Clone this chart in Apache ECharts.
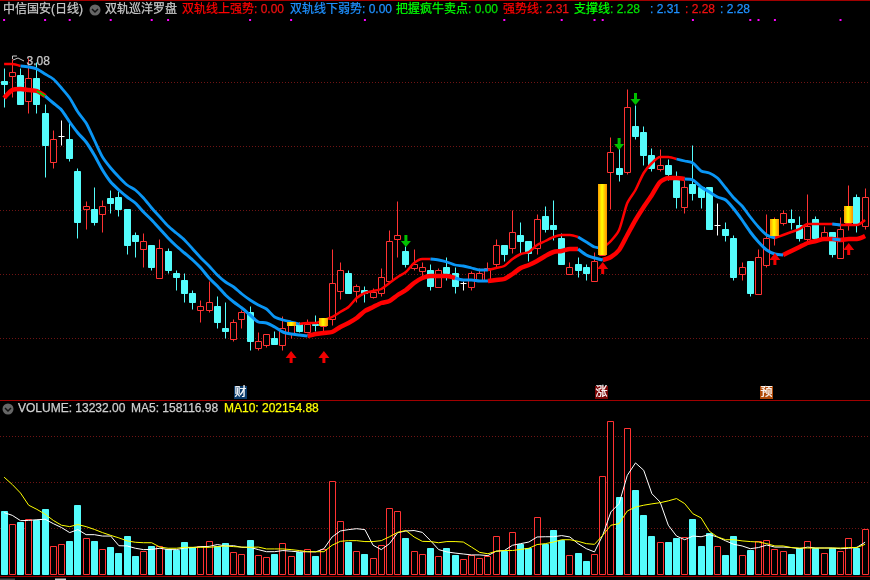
<!DOCTYPE html>
<html><head><meta charset="utf-8">
<style>html,body{margin:0;padding:0;background:#000}#c{width:870px;height:580px}</style>
<script src="https://cdn.jsdelivr.net/npm/echarts@6/dist/echarts.min.js"></script>
</head><body><div id="c"></div>
<script>
// [open, close, low, high]
const candles = [
[2.985,2.97,2.855,3.05],[3.01,3.03,2.905,3.095],[3.015,2.87,2.87,3.05],[2.885,3.00,2.825,3.10],[3.00,2.87,2.825,3.08],
[2.825,2.665,2.505,2.87],[2.58,2.695,2.55,2.74],[2.71,2.71,2.665,2.79],[2.695,2.60,2.585,2.78],[2.535,2.28,2.20,2.55],
[2.345,2.36,2.245,2.385],[2.345,2.28,2.265,2.455],[2.32,2.36,2.23,2.39],[2.40,2.375,2.325,2.44],[2.405,2.345,2.31,2.435],
[2.345,2.165,2.12,2.345],[2.215,2.185,2.105,2.23],[2.145,2.185,2.055,2.225],[2.165,2.055,2.04,2.165],[2.00,2.15,2.00,2.195],
[2.135,2.04,2.025,2.15],[2.025,2.005,1.94,2.04],[1.99,1.925,1.88,2.025],[1.925,1.88,1.845,1.94],[1.84,1.86,1.78,1.89],
[1.84,1.88,1.83,1.985],[1.86,1.78,1.75,1.91],[1.75,1.735,1.70,1.88],[1.695,1.78,1.685,1.795],[1.795,1.83,1.75,1.84],
[1.83,1.685,1.64,1.86],[1.65,1.685,1.64,1.73],[1.665,1.72,1.655,1.72],[1.70,1.67,1.67,1.735],[1.665,1.75,1.64,1.81],
[1.72,1.77,1.70,1.78],[1.77,1.735,1.73,1.78],[1.73,1.77,1.73,1.795],[1.77,1.765,1.735,1.815],[1.76,1.80,1.73,1.80],
[1.795,1.975,1.765,2.145],[1.935,2.04,1.895,2.08],[2.025,1.925,1.925,2.04],[1.935,1.96,1.88,1.97],[1.94,1.925,1.88,1.96],
[1.905,1.93,1.90,1.95],[1.925,2.005,1.91,2.05],[1.985,2.185,1.985,2.24],[2.195,2.215,2.105,2.385],[2.135,2.07,2.055,2.16],
[2.05,2.07,2.04,2.145],[2.035,2.055,2.00,2.08],[2.04,1.96,1.94,2.07],[1.955,2.04,1.955,2.05],[2.055,2.025,1.99,2.105],
[2.025,1.96,1.925,2.055],[1.975,1.975,1.94,1.985],[1.955,2.025,1.94,2.035],[1.99,2.025,1.99,2.05],[1.985,2.05,1.985,2.08],
[2.07,2.165,2.05,2.195],[2.165,2.12,2.085,2.165],[2.15,2.23,2.125,2.34],[2.215,2.185,2.125,2.28],[2.185,2.125,2.085,2.185],
[2.15,2.295,2.12,2.32],[2.31,2.245,2.23,2.36],[2.265,2.245,2.19,2.39],[2.20,2.07,2.07,2.225],[2.02,2.055,2.02,2.08],
[2.07,2.04,2.005,2.105],[2.055,2.025,1.99,2.07],[1.985,2.085,1.985,2.13],[2.115,2.47,2.115,2.47],[2.53,2.63,2.345,2.705],
[2.55,2.52,2.485,2.655],[2.53,2.855,2.52,2.945],[2.76,2.71,2.695,2.865],[2.73,2.615,2.565,2.76],[2.615,2.55,2.535,2.65],
[2.545,2.565,2.535,2.645],[2.565,2.52,2.49,2.595],[2.49,2.405,2.35,2.535],[2.355,2.455,2.325,2.49],[2.47,2.425,2.39,2.665],
[2.455,2.405,2.35,2.455],[2.455,2.245,2.245,2.455],[2.265,2.265,2.215,2.375],[2.245,2.215,2.185,2.28],[2.20,2.005,1.99,2.215],
[2.02,2.055,1.99,2.08],[2.085,1.925,1.91,2.085],[1.92,2.105,1.92,2.145],[2.065,2.20,2.055,2.32],[2.21,2.295,2.165,2.305],
[2.275,2.325,2.265,2.34],[2.295,2.28,2.245,2.345],[2.265,2.20,2.185,2.31],[2.195,2.26,2.185,2.42],[2.295,2.20,2.20,2.31],
[2.20,2.23,2.19,2.26],[2.23,2.12,2.105,2.23],[2.10,2.245,2.10,2.305],[2.275,2.36,2.24,2.465],[2.405,2.27,2.23,2.42],
[2.26,2.405,2.245,2.45]];
const upperRail = [3.07,3.07,3.06,3.055,3.045,3.02,2.995,2.95,2.90,2.83,2.775,2.69,2.605,2.55,2.505,2.465,2.44,2.40,2.35,2.305,
2.26,2.225,2.19,2.145,2.10,2.06,2.015,1.98,1.955,1.92,1.89,1.865,1.845,1.805,1.79,1.78,1.77,1.775,1.775,1.79,
1.805,1.83,1.855,1.90,1.925,1.935,1.945,1.975,2.005,2.03,2.075,2.095,2.095,2.09,2.08,2.065,2.06,2.05,2.04,2.04,
2.05,2.06,2.095,2.12,2.13,2.165,2.185,2.205,2.215,2.215,2.205,2.18,2.155,2.15,2.185,2.24,2.375,2.44,2.525,2.575,
2.605,2.605,2.595,2.585,2.575,2.535,2.525,2.50,2.45,2.40,2.36,2.305,2.255,2.215,2.20,2.215,2.23,2.245,2.27,2.27,
2.27,2.27,2.265,2.265,2.265,2.29];
const lowerRail = [2.90,2.94,2.945,2.94,2.935,2.91,2.875,2.84,2.78,2.725,2.68,2.615,2.54,2.48,2.44,2.405,2.375,2.33,2.29,2.245,
2.20,2.16,2.125,2.09,2.05,2.00,1.96,1.915,1.88,1.85,1.815,1.78,1.775,1.755,1.73,1.72,1.715,1.71,1.72,1.725,
1.73,1.755,1.775,1.80,1.835,1.855,1.875,1.885,1.915,1.94,1.975,2.00,2.01,2.01,2.01,2.00,1.99,1.99,1.985,1.985,
1.99,1.995,2.02,2.05,2.065,2.085,2.11,2.13,2.135,2.145,2.145,2.115,2.10,2.09,2.105,2.14,2.215,2.29,2.355,2.415,
2.48,2.50,2.50,2.495,2.49,2.455,2.43,2.405,2.39,2.345,2.29,2.23,2.18,2.14,2.12,2.115,2.135,2.155,2.175,2.185,
2.195,2.195,2.19,2.195,2.195,2.21];
const upperFallRuns = [[2,36],[52,59],[70,73],[82,94],[101,102]];
const lowerFallRuns = [[5,37],[55,59],[70,73],[83,95],[101,102]];
const lowerGreenRun = [4,5];
// volume, thousands
const volume = [273,219,225,241,234,281,123,132,142,299,158,142,110,116,90,164,77,101,120,123,107,103,138,116,123,145,120,134,97,88,147,84,75,86,136,80,
94,110,77,110,406,232,138,101,86,71,127,288,275,155,101,88,112,80,112,81,67,84,71,77,167,99,184,132,114,249,129,190,149,84,90,
55,88,428,667,334,636,364,255,164,141,138,155,162,238,120,177,123,81,164,84,103,145,149,110,101,86,112,145,112,93,112,101,158,114,197];
const ma5 = [267,255,232,233,236,238,219,202,180,193,171,171,165,165,123,122,112,106,107,112,106,106,113,115,119,120,128,122,123,116,116,106,97,97,102,99,
96,97,96,110,161,187,193,197,193,125,106,132,180,187,189,181,145,106,96,91,87,83,83,80,99,102,125,132,139,161,162,162,167,161,132,
110,96,168,270,306,429,483,451,349,313,212,165,149,165,162,171,161,144,129,122,110,115,126,117,117,115,110,117,113,113,113,110,112,116,138];
const ma10 = [421,389,352,299,281,260,233,212,206,215,206,194,180,168,157,144,138,136,136,117,112,112,116,116,116,116,119,122,119,117,116,117,109,109,109,106,
102,97,97,97,125,142,145,145,141,141,145,162,181,189,161,142,141,136,141,141,139,117,94,88,99,102,102,107,112,128,132,139,149,149,142,
132,129,168,212,219,274,291,299,305,310,318,328,306,262,244,186,161,149,149,144,141,139,132,122,122,115,113,113,113,113,113,113,115,115,129];
const dateIndex = candles.map((_, i) => i);
const topDots = [0,5,8,13,18,20,30,35,44,61,68,72,73,84,91,92,94,102];
const upArrows = [[35,1.605],[39,1.605],[73,2.05],[94,2.095],[103,2.145]];
const downArrows = [[49,2.185],[75,2.67],[77,2.895]];
const goldBars = [[35,1.76,1.78],[39,1.76,1.80],[73,2.115,2.47],[94,2.21,2.295],[103,2.275,2.36]];

const priceMin = 1.38, priceMax = 3.30, priceStep = 0.32;
const volMax = 800, volStep = 200;

const RED='#ff3232', CYAN='#54fcfc', BLUE='#0a96f5', RAILRED='#ff0000';
const inRuns=(i,runs)=>runs.some(r=>i>=r[0]&&i<=r[1]);
const isEdge=(i,runs)=>runs.some(r=>i===r[0]||i===r[1]);
const fallPart=(arr,runs)=>arr.map((v,i)=>inRuns(i,runs)?v:null);
const risePart=(arr,runs)=>arr.map((v,i)=>(!inRuns(i,runs)||isEdge(i,runs))?v:null);
const rail=(name,data,color,width,z)=>({name,type:'line',xAxisIndex:0,yAxisIndex:0,data,showSymbol:false,symbol:'none',smooth:0.25,
  connectNulls:false,lineStyle:{color,width},z,silent:true});
const UP_PATH='path://M5.5 0L11 7L7 7L7 12L4 12L4 7L0 7Z';
const DOWN_PATH='path://M3.5 0L6.5 0L6.5 6L10 6L5 12L0 6L3.5 6Z';

const UI='"Liberation Sans","Noto Sans CJK SC",sans-serif';
const headerTexts=[
 ['中信国安(日线)',3,'#c8c8c8'],['双轨巡洋罗盘',105,'#c8c8c8'],
 ['双轨线上强势',182,'#ff0000'],[': 0.00',254,'#f01010'],
 ['双轨线下弱势',290,'#1e90ff'],[': 0.00',362,'#1e90ff'],
 ['把握疯牛卖点',396,'#00ff00'],[': 0.00',468,'#00e000'],
 ['强势线',503,'#ff0000'],[': 2.31',539,'#f01010'],
 ['支撑线',574,'#00ff00'],[': 2.28',610,'#00e000'],
 [': 2.31',650,'#1e90ff'],[': 2.28',685,'#f01010'],[': 2.28',720,'#1e90ff']];
const volTexts=[['VOLUME: 13232.00',18,'#d0d0d0'],['MA5: 158116.98',131,'#d0d0d0'],['MA10: 202154.88',224,'#ffff00']];
const badges=[['财',234,'#0a3a6a'],['涨',595,'#7a0505'],['预',760,'#b04a08']];
const gfx=[];
const txt=(t,x,y,c,extra)=>({type:'text',silent:true,z:50,x,y,style:Object.assign({text:t,fill:c,stroke:c,lineWidth:0.25,font:'12px '+UI,textVerticalAlign:'middle'},extra||{})});
headerTexts.forEach(h=>gfx.push(txt(h[0],h[1],10,h[2])));
volTexts.forEach(h=>gfx.push(txt(h[0],h[1],409,h[2])));
const gear=(cx,cy)=>{gfx.push({type:'circle',silent:true,z:50,shape:{cx,cy,r:5.5},style:{fill:'#666'}});
 gfx.push({type:'polyline',silent:true,z:51,shape:{points:[[cx-3,cy-1],[cx,cy+2],[cx+3,cy-1]]},style:{stroke:'#111',lineWidth:1.5,fill:null}});};
gear(95,10);gear(8,409);
badges.forEach(b=>{gfx.push({type:'rect',silent:true,z:50,shape:{x:b[1],y:386,width:13,height:13},style:{fill:b[2]}});
 gfx.push(txt(b[0],b[1]+0.5,392.5,'#ffffff'));});
[0.5,400.5,576.5].forEach(y=>gfx.push({type:'line',silent:true,z:40,shape:{x1:0,y1:y,x2:870,y2:y},style:{stroke:'#a00000',lineWidth:1}}));
gfx.push({type:'rect',silent:true,z:40,shape:{x:55,y:578.5,width:11,height:2},style:{fill:'#cccccc'}});
gfx.push({type:'rect',silent:true,z:40,shape:{x:0,y:578.5,width:15,height:2},style:{fill:'#444'}});
gfx.push({type:'polyline',silent:true,z:42,shape:{points:[[12.5,59],[12.5,56],[17,56]]},style:{stroke:'#c8c8c8',lineWidth:1,fill:null}});
gfx.push({type:'polyline',silent:true,z:42,shape:{points:[[13,60],[18,58],[24,61]]},style:{stroke:'#c8c8c8',lineWidth:1,fill:null}});
gfx.push(txt('3.08',26.5,61.5,'#c8c8c8'));

// the picture is pixel crisp, so marks are aligned to device pixels
const snapX=v=>Math.floor(v)+0.5;
const snapY=v=>Math.round(v)+0.5;
const renderCandle=(p,api)=>{
  const i=api.value(0),o=api.value(1),c=api.value(2),l=api.value(3),h=api.value(4);
  const cx=snapX(api.coord([i,o])[0]);
  const yo=snapY(api.coord([i,o])[1]),yc=snapY(api.coord([i,c])[1]),yl=snapY(api.coord([i,l])[1]),yh=snapY(api.coord([i,h])[1]);
  const top=Math.min(yo,yc),bot=Math.max(yo,yc);
  const up=c>o,flat=c===o;
  const col=flat?'#ffffff':(up?RED:CYAN);
  const kids=[{type:'line',shape:{x1:cx,y1:yh,x2:cx,y2:yl},style:{stroke:col,lineWidth:1}}];
  if(flat){kids.push({type:'line',shape:{x1:cx-3,y1:top,x2:cx+3,y2:top},style:{stroke:col,lineWidth:1}});}
  else kids.push({type:'rect',shape:{x:cx-3,y:top,width:6,height:bot-top},style:{fill:up?'#000':col,stroke:col,lineWidth:1}});
  return {type:'group',children:kids};
};
const renderVol=(p,api)=>{
  const i=api.value(0),v=api.value(1),up=api.value(2)>0;
  const cx=snapX(api.coord([i,v])[0]);
  const t=snapY(api.coord([i,v])[1]),b=snapY(api.coord([i,0])[1]);
  return {type:'rect',shape:{x:cx-3,y:t,width:6,height:b-t},style:{fill:up?'#000':CYAN,stroke:up?RED:CYAN,lineWidth:1}};
};
const dotted={show:true,showMinLine:false,showMaxLine:false,lineStyle:{color:'#701414',width:1,type:[1,2]}};
const noAxis={axisLine:{show:false},axisTick:{show:false},axisLabel:{show:false}};
const chart=echarts.init(document.getElementById('c'),null,{renderer:'canvas'});
chart.setOption({
 animation:false,backgroundColor:'#000',tooltip:{show:false},
 grid:[{left:0,top:18,width:869.2,height:384},{left:0,top:390,width:869.2,height:184}],
 xAxis:[{type:'category',gridIndex:0,data:dateIndex,boundaryGap:true,splitLine:{show:false},...noAxis},
        {type:'category',gridIndex:1,data:dateIndex,boundaryGap:true,splitLine:{show:false},...noAxis}],
 yAxis:[{type:'value',gridIndex:0,min:priceMin,max:priceMax,interval:priceStep,scale:true,splitLine:dotted,...noAxis},
        {type:'value',gridIndex:1,min:0,max:volMax,interval:volStep,splitLine:dotted,...noAxis}],
 graphic:gfx,
 series:[
  {name:'K',type:'custom',xAxisIndex:0,yAxisIndex:0,data:candles.map((c,i)=>[i,...c]),renderItem:renderCandle,z:3,silent:true},
  rail('upper-rise',risePart(upperRail,upperFallRuns),RAILRED,2.5,5),
  rail('upper-fall',fallPart(upperRail,upperFallRuns),BLUE,2.8,6),
  rail('lower-rise',risePart(lowerRail,lowerFallRuns),RAILRED,4.5,5),
  rail('lower-fall',fallPart(lowerRail,lowerFallRuns),BLUE,3,6),
  rail('lower-green',lowerRail.map((v,i)=>(i>=lowerGreenRun[0]&&i<=lowerGreenRun[1])?v:null),'#00d000',2,7),
  {name:'gold',type:'custom',xAxisIndex:0,yAxisIndex:0,z:8,silent:true,data:goldBars,
   renderItem:(p,api)=>{
     const a=api.coord([api.value(0),api.value(2)]),b=api.coord([api.value(0),api.value(1)]);
     return {type:'rect',shape:{x:Math.floor(a[0])-4,y:Math.round(a[1]),width:9,height:Math.round(b[1]-a[1])},
       style:{fill:new echarts.graphic.LinearGradient(0,0,1,0,[{offset:0,color:'#ff9c00'},{offset:0.45,color:'#ffff00'},{offset:1,color:'#ff8c00'}])}};
   }},
  {name:'up',type:'scatter',xAxisIndex:0,yAxisIndex:0,data:upArrows,symbol:UP_PATH,symbolSize:[11,12],itemStyle:{color:'#f00000',opacity:1},z:9,silent:true},
  {name:'down',type:'scatter',xAxisIndex:0,yAxisIndex:0,data:downArrows,symbol:DOWN_PATH,symbolSize:[10,12],itemStyle:{color:'#00c000',opacity:1},z:9,silent:true},
  {name:'dots',type:'scatter',xAxisIndex:0,yAxisIndex:0,data:topDots.map(i=>[i,3.29]),symbol:'rect',symbolSize:2,itemStyle:{color:'#ff00ff',opacity:1},z:9,silent:true},
  {name:'VOLUME',type:'custom',xAxisIndex:1,yAxisIndex:1,data:volume.map((v,i)=>[i,v,candles[i][1]>=candles[i][0]?1:0]),renderItem:renderVol,z:3,silent:true},
  {name:'MA5',type:'line',xAxisIndex:1,yAxisIndex:1,data:ma5,showSymbol:false,symbol:'none',lineStyle:{color:'#ffffff',width:1},z:5,silent:true},
  {name:'MA10',type:'line',xAxisIndex:1,yAxisIndex:1,data:ma10,showSymbol:false,symbol:'none',lineStyle:{color:'#ffff00',width:1},z:6,silent:true}
 ]
});
</script></body></html>
